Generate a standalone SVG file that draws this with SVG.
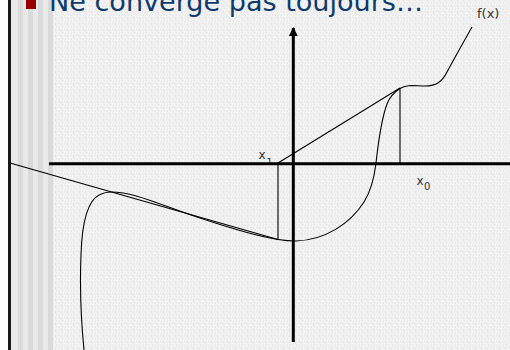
<svg xmlns="http://www.w3.org/2000/svg" width="510" height="350" viewBox="0 0 510 350">
<defs>
<pattern id="tex" x="0" y="0" width="6" height="6" patternUnits="userSpaceOnUse">
<rect width="6" height="6" fill="#f0f0f0"/>
<rect x="1" y="0" width="1" height="1" fill="#e2e2e2"/>
<rect x="4" y="1" width="1" height="1" fill="#fafafa"/>
<rect x="2" y="2" width="1" height="1" fill="#e4e4e4"/>
<rect x="0" y="3" width="1" height="1" fill="#f9f9f9"/>
<rect x="5" y="3" width="1" height="1" fill="#e3e3e3"/>
<rect x="3" y="4" width="1" height="1" fill="#fafafa"/>
<rect x="1" y="5" width="1" height="1" fill="#e5e5e5"/>
<rect x="4" y="5" width="1" height="1" fill="#e6e6e6"/>
</pattern>
<marker id="arr" viewBox="0 0 10 10" refX="9" refY="5" markerWidth="3" markerHeight="3" orient="auto" markerUnits="strokeWidth">
<path d="M0,0 L10,5 L0,10 z" fill="#000"/>
</marker>
<style>
.thin{fill:none;stroke:#000;stroke-width:1.1}
.axis{fill:none;stroke:#000;stroke-width:3}
.lbl{font-family:"DejaVu Sans","Verdana",sans-serif;fill:#333}
.light{fill:#e9e9e9}
.dark{fill:#dadada}
</style>
</defs>
<rect width="510" height="350" fill="#fff"/>
<rect x="53" y="0" width="457" height="350" fill="url(#tex)"/>
<g id="stripes">
<rect x="8" y="0" width="3" height="350" fill="#1a1a1a"/>
<rect class="light" x="11" y="0" width="7" height="350"/>
<rect class="dark" x="18" y="0" width="5" height="350"/>
<rect class="light" x="23" y="0" width="5" height="350"/>
<rect class="dark" x="28" y="0" width="5" height="350"/>
<rect class="light" x="33" y="0" width="5" height="350"/>
<rect class="dark" x="38" y="0" width="5" height="350"/>
<rect class="light" x="43" y="0" width="5" height="350"/>
<rect class="dark" x="48" y="0" width="5" height="350"/>
</g>
<g id="title">
<rect x="26" y="0" width="10" height="9" fill="#990000"/>
<text x="49" y="11" font-family="DejaVu Sans, Verdana, sans-serif" font-size="27" textLength="374" lengthAdjust="spacingAndGlyphs" fill="#0e3a6c">Ne converge pas toujours…</text>
</g>
<g id="labels">
<text class="lbl" x="477" y="18" font-size="13">f(x)</text>
<text class="lbl" x="258.5" y="159.3" font-size="12">x</text>
<text class="lbl" x="266.5" y="164.5" font-size="9.5">1</text>
<text class="lbl" x="416.5" y="185" font-size="12">x</text>
<text class="lbl" x="424" y="189.5" font-size="10">0</text>
</g>
<g id="connectors">
<line class="axis" x1="49" y1="163.7" x2="510" y2="163.7"/>
<line class="axis" x1="293.3" y1="342" x2="293.3" y2="28" marker-end="url(#arr)"/>
<line class="thin" x1="278" y1="163" x2="400" y2="88"/>
<line class="thin" x1="10" y1="163" x2="278" y2="239.5"/>
<line class="thin" x1="400" y1="88" x2="400" y2="163"/>
<line class="thin" x1="278" y1="163" x2="278" y2="239.5"/>
</g>
<g id="curve">
<path class="thin" d="M 84 350 C 81 320, 80 280, 81 255 C 82 220, 88 200, 100 194.5 C 104 192.5, 107 192, 111 192 C 135 192, 160 205, 200 218 C 230 228, 255 236, 278 239.5 C 285 240.6, 290 241, 296 241 C 325 240, 350 224, 364 202 C 369 194, 374 180, 376 163 C 378 145, 381 120, 387 104 C 389 98.7, 393 93, 400 88.5 C 407 84, 415 86, 425 86 C 436 86, 442 82, 447 72 C 455 57, 463 43, 472 27"/>
</g>
</svg>
